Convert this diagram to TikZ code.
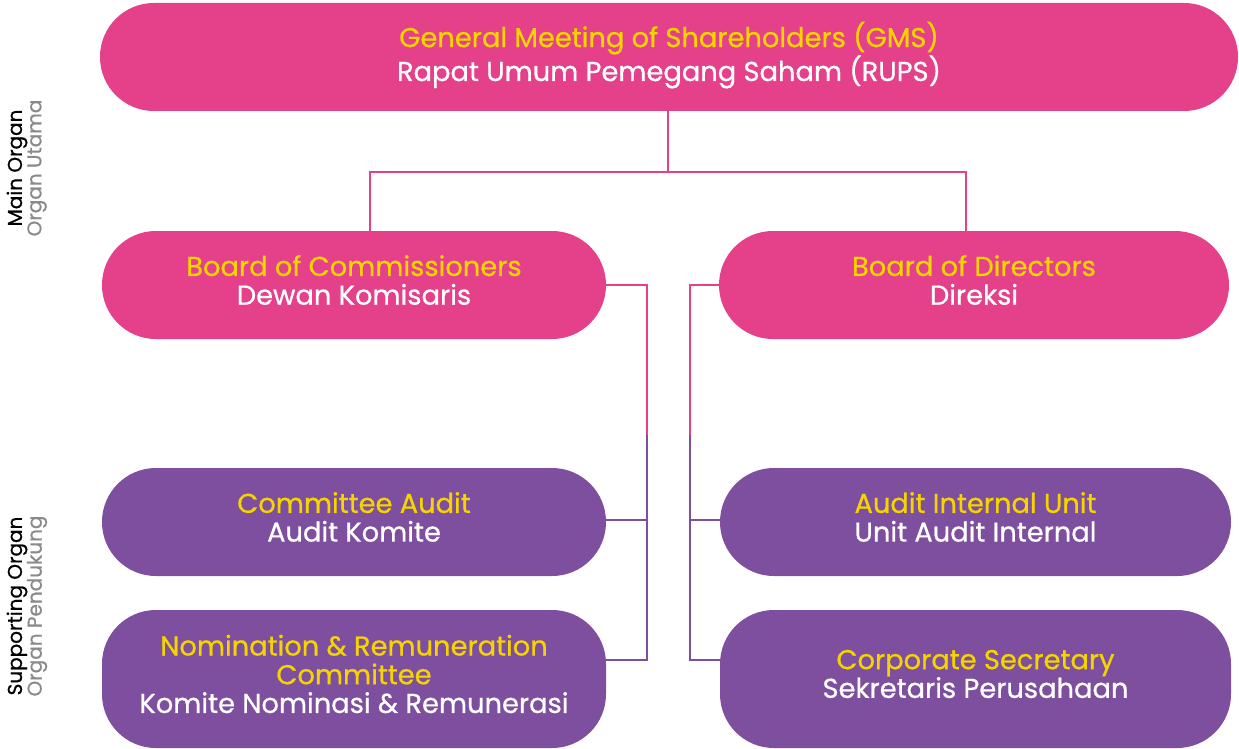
\documentclass[tikz,border=0pt]{standalone}
\usepackage{fontspec}
\setmainfont{Poppins}[FakeBold=0.7]
\definecolor{pinkc}{HTML}{E5408A}
\definecolor{purpc}{HTML}{7E4F9E}
\definecolor{yelc}{HTML}{F5D400}
\definecolor{grayc}{HTML}{8A8A8A}
\begin{document}
\begin{tikzpicture}[x=1pt,y=-1pt,
  pill/.style={rectangle,rounded corners=53.9pt,minimum height=108pt,inner sep=0pt},
  pinkbox/.style={pill,fill=pinkc},
  purpbox/.style={pill,fill=purpc},
  txt/.style={inner sep=0pt,align=center,text=white,font=\fontsize{27.3}{28.7}\selectfont},
  pinkline/.style={draw=pinkc,line width=2pt},
  purpline/.style={draw=purpc,line width=2pt},
  side/.style={rotate=90,font=\fontsize{20}{22}\selectfont}]
\useasboundingbox (0,0) rectangle (1239,749);
\node[pinkbox,minimum width=1138pt] (gms) at (669,57) {};
\node[pinkbox,minimum width=504pt] (boc) at (354,285) {};
\node[pinkbox,minimum width=510pt] (bod) at (974,285) {};
\node[purpbox,minimum width=504pt] (ca) at (354,522) {};
\node[purpbox,minimum width=504pt,minimum height=138pt] (nrc) at (354,679) {};
\node[purpbox,minimum width=511pt] (aiu) at (975.5,522) {};
\node[purpbox,minimum width=511pt,minimum height=138pt] (cs) at (975.5,679) {};
\node[txt,font=\fontsize{27.3}{32}\selectfont] (gmst) at ([yshift=2pt]gms.center) {\textcolor{yelc}{General Meeting of Shareholders (GMS)}\\Rapat Umum Pemegang Saham (RUPS)};
\node[txt] (boct) at ([yshift=5pt]boc.center) {\textcolor{yelc}{Board of Commissioners}\\Dewan Komisaris};
\node[txt] (bodt) at ([yshift=5pt]bod.center) {\textcolor{yelc}{Board of Directors}\\Direksi};
\node[txt] (cat) at ([yshift=5pt]ca.center) {\textcolor{yelc}{Committee Audit}\\Audit Komite};
\node[txt] (nrct) at ([yshift=5pt]nrc.center) {\textcolor{yelc}{Nomination \& Remuneration}\\\textcolor{yelc}{Committee}\\Komite Nominasi \& Remunerasi};
\node[txt] (aiut) at ([yshift=5pt]aiu.center) {\textcolor{yelc}{Audit Internal Unit}\\Unit Audit Internal};
\node[txt] (cst) at ([yshift=5pt]cs.center) {\textcolor{yelc}{Corporate Secretary}\\Sekretaris Perusahaan};
% side labels
\node[side,anchor=center] (mainA) at (17,168) {Main Organ};
\node[side,anchor=center,text=grayc] (mainB) at (37,168) {Organ Utama};
\node[side,anchor=center] (supA) at (17,606) {Supporting Organ};
\node[side,anchor=center,text=grayc] (supB) at (37,606) {Organ Pendukung};
% connectors
\coordinate (jtop) at (668,172);
\coordinate (jl) at (370,172);
\coordinate (jr) at (966,172);
\draw[pinkline] (gms.south -| jtop) -- (jtop);
\draw[pinkline] (jl |- boc.north) -- (jl) -- (jr) -- (jr |- bod.north);
\coordinate (bl1) at (647,285);
\coordinate (bl2) at (647,435);
\coordinate (bl3) at (647,520);
\coordinate (bl4) at (647,660);
\coordinate (br1) at (690,285);
\coordinate (br2) at (690,435);
\coordinate (br3) at (690,520);
\coordinate (br4) at (690,660);
\draw[pinkline] (boc.east) -- (bl1) -- (bl2);
\draw[purpline] (bl2) -- (bl4) -- (bl4 -| nrc.east);
\draw[purpline] (bl3) -- (bl3 -| ca.east);
\draw[pinkline] (bod.west) -- (br1) -- (br2);
\draw[purpline] (br2) -- (br4) -- (br4 -| cs.west);
\draw[purpline] (br3) -- (br3 -| aiu.west);
\end{tikzpicture}
\end{document}
